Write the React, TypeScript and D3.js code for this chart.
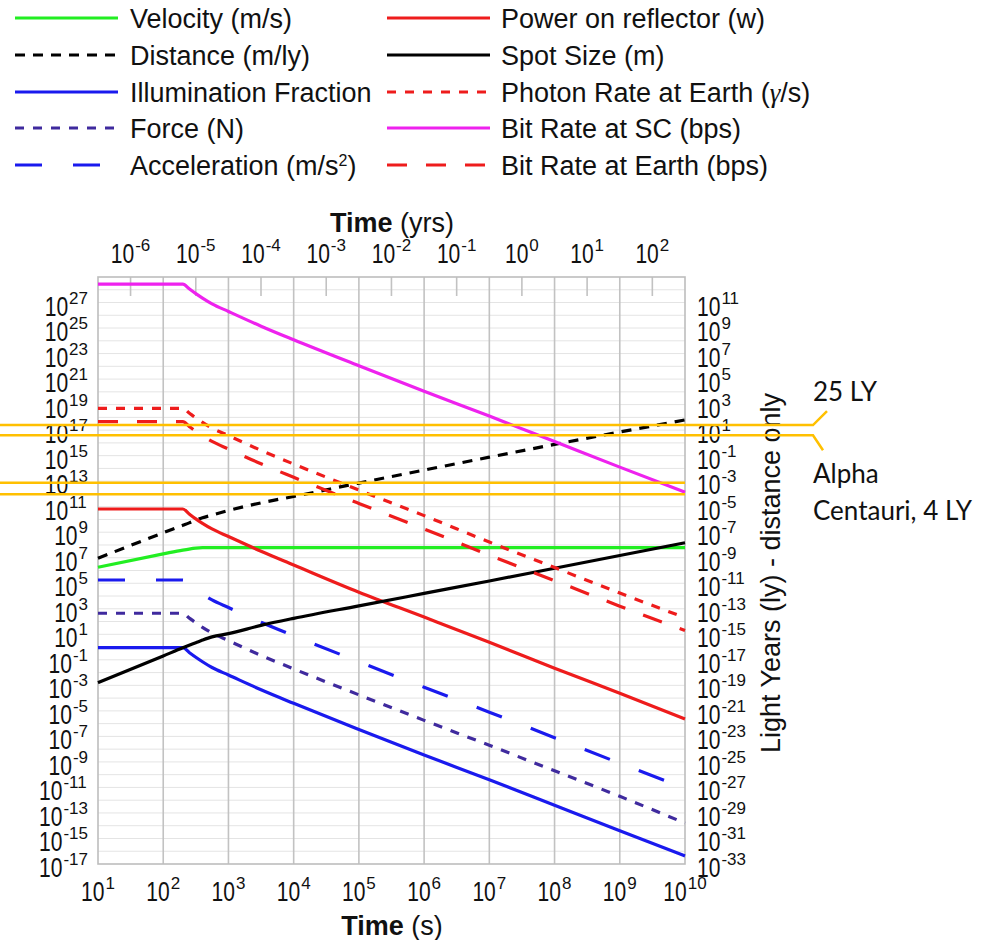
import React from "react";
import * as d3 from "d3";

// ---------- data ----------
const timeS = [10, 100, 200, 250, 316, 400, 560, 1000, 3160, 1e4, 1e5, 1e6, 1e7, 1e8, 1e9, 1e10];
const velocity = [1.8e6, 2e7, 4e7, 4.8e7, 5.6e7, 6.1e7, 6.3e7, 6.3e7, 6.3e7, 6.3e7, 6.3e7, 6.3e7, 6.3e7, 6.3e7, 6.3e7, 6.3e7];
const distance = [9.1e6, 9.1e8, 3.5e9, 5.4e9, 8.9e9, 1.35e10, 2.2e10, 5e10, 2e11, 6.3e11, 7.1e12, 7.4e13, 7.6e14, 7.6e15, 7.1e16, 6.3e17];
const illumination = [0.89, 0.89, 0.89, 0.38, 0.16, 0.071, 0.025, 6.5e-3, 4.5e-4, 3.9e-5, 3.5e-7, 3.5e-9, 4e-11, 4e-13, 4e-15, 4.3e-17];
const force = [447, 447, 447, 190, 79, 35, 12.6, 3.2, 0.22, 0.0195, 1.8e-4, 1.8e-6, 2e-8, 2e-10, 2e-12, 1.6e-14];
const acceleration = [1.8e5, 1.8e5, 1.8e5, 7.6e4, 3.2e4, 1.4e4, 5e3, 1.26e3, 89, 7.8, 0.071, 7.1e-4, 7.9e-6, 7.9e-8, 7.9e-10, 8.5e-12];
const power = [6.6e10, 6.6e10, 6.6e10, 2.7e10, 1.1e10, 5e9, 1.8e9, 4.6e8, 3.2e7, 2.7e6, 2e4, 224, 2.4, 0.022, 2.4e-4, 2.3e-6];
const spotSize = [1.6e-3, 0.2, 0.89, 1.4, 2.2, 3.5, 6.3, 11.2, 50, 178, 1.7e3, 1.6e4, 1.5e5, 1.5e6, 1.5e7, 1.5e8];
const photonRate = [5.1e18, 5.1e18, 5.1e18, 2.2e18, 9.1e17, 4.1e17, 1.45e17, 3.7e16, 2.6e15, 2.2e14, 2.0e12, 2.0e10, 1.7e8, 1.7e6, 1.7e4, 200];
const bitRateSC = [2.8e28, 2.8e28, 2.8e28, 1.2e28, 5.0e27, 2.24e27, 7.9e26, 2.0e26, 1.4e25, 1.2e24, 1.1e22, 1.1e20, 1.26e18, 1.26e16, 1.26e14, 1.35e12];
const bitRateEarth = [4.6e17, 4.6e17, 4.6e17, 1.95e17, 8.1e16, 3.6e16, 1.3e16, 3.3e15, 2.3e14, 2e13, 1.8e11, 1.8e9, 1.6e7, 1.6e5, 1.6e3, 19.5];

const bottomTickExps = [1, 2, 3, 4, 5, 6, 7, 8, 9, 10];
const topTickExps = [-6, -5, -4, -3, -2, -1, 0, 1, 2];
const leftTickExps = [-17, -15, -13, -11, -9, -7, -5, -3, -1, 1, 3, 5, 7, 9, 11, 13, 15, 17, 19, 21, 23, 25, 27];
const rightTickExps = [-33, -31, -29, -27, -25, -23, -21, -19, -17, -15, -13, -11, -9, -7, -5, -3, -1, 1, 3, 5, 7, 9, 11];

const markerLY = [25, 4];
const markerLabels = ["25 LY", "Alpha", "Centauri, 4 LY"];
const extraMarkers = [7.6e-4, 9.5e-5];

const SECONDS_PER_YEAR = 3.156e7;

// ---------- series styling ----------
const series = [
  { name: "Velocity (m/s)", values: velocity, color: "#22ee22", dash: null },
  { name: "Distance (m/ly)", values: distance, color: "#000000", dash: "10,8" },
  { name: "Illumination Fraction", values: illumination, color: "#1a1aee", dash: null },
  { name: "Force (N)", values: force, color: "#3f2a9e", dash: "9,9" },
  { name: "Acceleration", values: acceleration, color: "#1a1aee", dash: "27,31" },
  { name: "Power on reflector (w)", values: power, color: "#ee1c1c", dash: null },
  { name: "Spot Size (m)", values: spotSize, color: "#000000", dash: null },
  { name: "Photon Rate", values: photonRate, color: "#ee1c1c", dash: "9,9" },
  { name: "Bit Rate at SC (bps)", values: bitRateSC, color: "#ee22ee", dash: null },
  { name: "Bit Rate at Earth (bps)", values: bitRateEarth, color: "#ee1c1c", dash: "20,19" },
];

const FONT = "Liberation Sans, Arial, Helvetica, sans-serif";
const L = 98, R = 685, T = 277, B = 864;

const x = d3.scaleLog().domain([10, 1e10]).range([L, R]);
const xYears = d3.scaleLog().domain([10 / SECONDS_PER_YEAR, 1e10 / SECONDS_PER_YEAR]).range([L, R]);
const yLeft = d3.scaleLog().domain([1e-17, 1e29]).range([B, T]);
const yRight = d3.scaleLog().domain([1e-33, 1e13]).range([B, T]);

const charW = (s: string) => s.split("").reduce((a, c) => a + (c === "-" ? 0.333 : 0.556), 0);
const BASE_FS = 27, BASE_SX = 0.78, SUP_FS = 17;
const baseW = 1.112 * BASE_FS * BASE_SX;

function PowLabel({ px, baseline, exp, align }: { px: number; baseline: number; exp: number; align: "start" | "end" | "middle" }) {
  const s = String(exp);
  const supW = charW(s) * SUP_FS;
  const total = baseW + 1 + supW;
  let start = px;
  if (align === "end") start = px - total;
  if (align === "middle") start = px - total / 2;
  return (
    <g fill="#111" fontFamily={FONT}>
      <text transform={`translate(${start},${baseline}) scale(${BASE_SX},1)`} fontSize={BASE_FS}>10</text>
      <text x={start + baseW + 1} y={baseline - 12} fontSize={SUP_FS}>{s}</text>
    </g>
  );
}

export default function App() {
  const line = d3
    .line<number>()
    .x((_, i) => x(timeS[i]))
    .y((d) => yLeft(d))
    .curve(d3.curveMonotoneX);

  const legendLeft = [
    { s: series[0], label: <tspan>Velocity (m/s)</tspan> },
    { s: series[1], label: <tspan>Distance (m/ly)</tspan> },
    { s: series[2], label: <tspan>Illumination Fraction</tspan> },
    { s: series[3], label: <tspan>Force (N)</tspan> },
    {
      s: series[4],
      label: (
        <>
          <tspan>Acceleration (m/s</tspan>
          <tspan fontSize={16} dy={-9}>2</tspan>
          <tspan dy={9}>)</tspan>
        </>
      ),
    },
  ];
  const legendRight = [
    { s: series[5], label: <tspan>Power on reflector (w)</tspan> },
    { s: series[6], label: <tspan>Spot Size (m)</tspan> },
    {
      s: series[7],
      label: (
        <>
          <tspan>Photon Rate at Earth (</tspan>
          <tspan fontFamily="Liberation Serif, DejaVu Serif, serif" fontStyle="italic">γ</tspan>
          <tspan>/s)</tspan>
        </>
      ),
    },
    { s: series[8], label: <tspan>Bit Rate at SC (bps)</tspan> },
    { s: series[9], label: <tspan>Bit Rate at Earth (bps)</tspan> },
  ];
  const rowBase = [28, 65, 102, 138, 175];

  const hGrid = d3.range(-16, 29).map((e) => Math.pow(10, e));
  const vGrid = d3.range(2, 10).map((e) => Math.pow(10, e));

  const y25 = yRight(markerLY[0]);
  const y4 = yRight(markerLY[1]);

  return (
    <svg width={992} height={940} style={{ position: "absolute", left: 0, top: 0, background: "#fff" }} fontFamily={FONT}>
      <rect x={0} y={0} width={992} height={940} fill="#fff" />
      {/* legend */}
      {legendLeft.map((d, i) => (
        <g key={"ll" + i}>
          <line x1={15} x2={118} y1={rowBase[i] - 10} y2={rowBase[i] - 10} stroke={d.s.color} strokeWidth={3} strokeDasharray={d.s.dash || undefined} />
          <text x={130} y={rowBase[i]} fontSize={27} fill="#111">{d.label}</text>
        </g>
      ))}
      {legendRight.map((d, i) => (
        <g key={"lr" + i}>
          <line x1={387} x2={490} y1={rowBase[i] - 10} y2={rowBase[i] - 10} stroke={d.s.color} strokeWidth={3} strokeDasharray={d.s.dash || undefined} />
          <text x={501} y={rowBase[i]} fontSize={27} fill="#111">{d.label}</text>
        </g>
      ))}

      {/* grid */}
      {hGrid.map((v, i) => (
        <line key={"h" + i} x1={L} x2={R} y1={yLeft(v)} y2={yLeft(v)} stroke="#e4e4e4" strokeWidth={1} />
      ))}
      {vGrid.map((v, i) => (
        <line key={"v" + i} x1={x(v)} x2={x(v)} y1={T} y2={B} stroke="#c2c2c2" strokeWidth={1.6} />
      ))}
      {topTickExps.map((e) => (
        <line key={"tt" + e} x1={xYears(Math.pow(10, e))} x2={xYears(Math.pow(10, e))} y1={T} y2={T + 19} stroke="#c2c2c2" strokeWidth={1.6} />
      ))}
      <rect x={L} y={T} width={R - L} height={B - T} fill="none" stroke="#bdbdbd" strokeWidth={1.6} />

      {/* series */}
      {series.map((s, i) => (
        <path key={"s" + i} d={line(s.values) || ""} fill="none" stroke={s.color} strokeWidth={3.2} strokeDasharray={s.dash || undefined} />
      ))}

      {/* axis labels */}
      {leftTickExps.map((e) => (
        <PowLabel key={"l" + e} px={88} baseline={yLeft(Math.pow(10, e)) + 13} exp={e} align="end" />
      ))}
      {rightTickExps.map((e) => (
        <PowLabel key={"r" + e} px={697} baseline={yRight(Math.pow(10, e)) + 13} exp={e} align="start" />
      ))}
      {topTickExps.map((e) => (
        <PowLabel key={"t" + e} px={xYears(Math.pow(10, e))} baseline={263} exp={e} align="middle" />
      ))}
      {bottomTickExps.map((e) => (
        <PowLabel key={"b" + e} px={x(Math.pow(10, e))} baseline={901} exp={e} align="middle" />
      ))}

      <text x={392} y={232} textAnchor="middle" fontSize={27} fill="#111">
        <tspan fontWeight="bold">Time</tspan>
        <tspan> (yrs)</tspan>
      </text>
      <text x={392} y={935} textAnchor="middle" fontSize={27} fill="#111">
        <tspan fontWeight="bold">Time</tspan>
        <tspan> (s)</tspan>
      </text>
      <text transform="translate(780,573) rotate(-90)" textAnchor="middle" fontSize={27} fill="#111">
        Light Years (ly) - distance only
      </text>

      {/* annotations */}
      <g stroke="#FFC000" strokeWidth={2.5} fill="none">
        <path d={`M0,${y25}H813L827,${y25 - 14}`} />
        <path d={`M0,${y4}H813L823,${y4 + 15}`} />
        {extraMarkers.map((v, i) => (
          <line key={"em" + i} x1={0} x2={R} y1={yRight(v)} y2={yRight(v)} />
        ))}
      </g>
      <g fontFamily="Lato, Open Sans, sans-serif" fontSize={26} fill="#111">
        <text x={813} y={401}>{markerLabels[0]}</text>
        <text x={813} y={483}>{markerLabels[1]}</text>
        <text x={813} y={520}>{markerLabels[2]}</text>
      </g>
    </svg>
  );
}
